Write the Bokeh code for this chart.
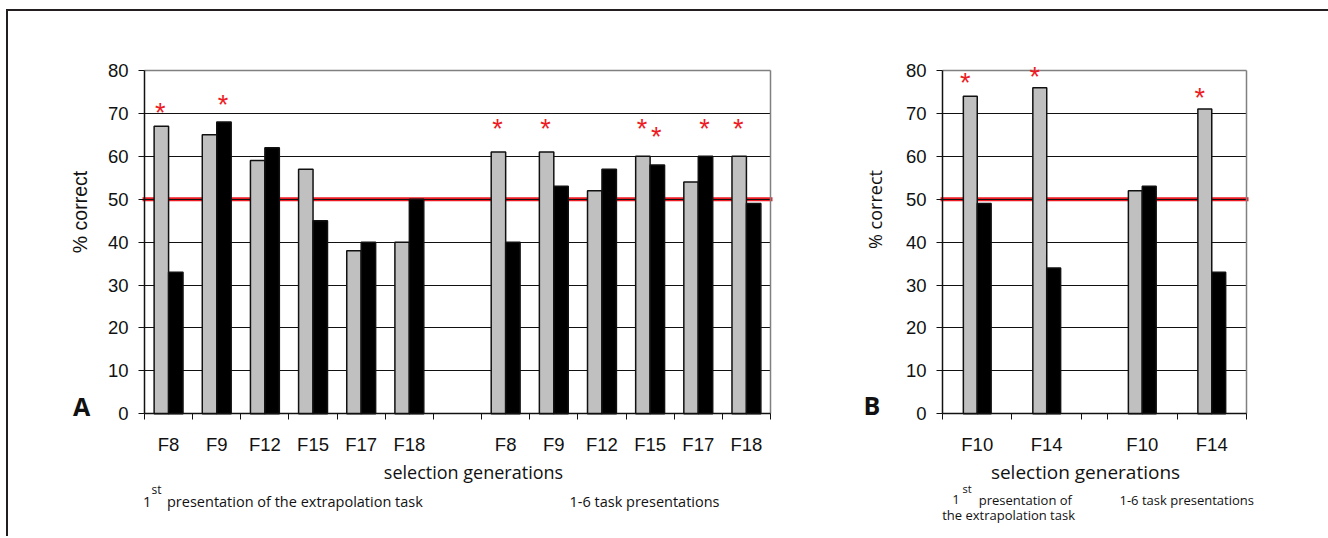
import math
from bokeh.plotting import figure
from bokeh.layouts import row
from bokeh.models import Range1d, FixedTicker, Label, LabelSet, ColumnDataSource, Grid
from bokeh.core.properties import value
from bokeh.embed import file_html
from bokeh.resources import INLINE

# ---------------- data ----------------
y_ticks = [0, 10, 20, 30, 40, 50, 60, 70, 80]
chance_level = 50

# Panel A
a_categories = ["F8", "F9", "F12", "F15", "F17", "F18"]
a_first_grey = [67, 65, 59, 57, 38, 40]
a_first_black = [33, 68, 62, 45, 40, 50]
a_rep_grey = [61, 61, 52, 60, 54, 60]
a_rep_black = [40, 53, 57, 58, 60, 49]
# significance asterisks: block (0 = first presentation, 1 = 1-6 presentations),
# category index, series, height of asterisk (% scale)
a_sig_block = [0, 0, 1, 1, 1, 1, 1, 1]
a_sig_cat = [0, 1, 0, 1, 3, 3, 4, 5]
a_sig_series = ["grey", "black", "grey", "grey", "grey", "black", "black", "grey"]
a_sig_y = [71.4, 73.3, 67.7, 67.7, 67.7, 66.0, 67.7, 67.7]

# Panel B
b_categories = ["F10", "F14"]
b_first_grey = [74, 76]
b_first_black = [49, 34]
b_rep_grey = [52, 71]
b_rep_black = [53, 33]
b_sig_block = [0, 0, 1]
b_sig_cat = [0, 1, 1]
b_sig_series = ["grey", "grey", "grey"]
b_sig_y = [78.5, 80.0, 74.9]

axis_title = "selection generations"
y_title = "% correct"
sub_first_num = "1"
sub_first_sup = "st"
sub_first_rest = "presentation of the extrapolation task"
sub_first_rest_b1 = "presentation of"
sub_first_rest_b2 = "the extrapolation task"
sub_repeat = "1-6 task presentations"

GREY = "#C0C0C0"
INK = "#111111"
RED = "#ED1C24"
FRAME_GREY = "#808080"

# page geometry (pixels in the page)
TOP, BOTTOM = 11, 536          # canvas top / bottom
Y0_PX, Y80_PX = 413.3, 70.0    # where 0 % and 80 % sit
BASE_SHIFT = 5                 # alphabetic baseline correction

HAS_CROSS = "cross_bounds" in Grid.properties()


def lin(d0, p0, d1, p1):
    k = (d1 - d0) / (p1 - p0)
    return lambda px: d0 + (px - p0) * k


def add_rule(p, dim, loc, cross, color, width):
    """A gridline limited to the plotting area."""
    if HAS_CROSS:
        p.add_layout(Grid(dimension=dim, ticker=FixedTicker(ticks=list(loc)),
                          cross_bounds=cross, grid_line_color=color,
                          grid_line_width=width))
    else:
        for v in loc:
            if dim == 1:
                p.segment(x0=[cross[0]], x1=[cross[1]], y0=[v], y1=[v],
                          line_color=color, line_width=width, level="underlay")
            else:
                p.segment(x0=[v], x1=[v], y0=[cross[0]], y1=[cross[1]],
                          line_color=color, line_width=width, level="underlay")


def make_panel(cats, fg, fb, rg, rb, sig_block, sig_cat, sig_series, sig_y,
               gap, bar_w, canvas_l, canvas_r, frame_l, frame_r, sig_dx):
    n = len(cats)
    starts = [0.0, n + gap]
    x_end = starts[1] + n
    fx = lin(0.0, frame_l, x_end, frame_r)
    fy = lin(0.0, Y0_PX, 80.0, Y80_PX)
    p = figure(width=int(canvas_r - canvas_l), height=int(BOTTOM - TOP),
               output_backend="svg", toolbar_location=None,
               x_range=Range1d(fx(canvas_l), fx(canvas_r)),
               y_range=Range1d(fy(BOTTOM), fy(TOP)),
               min_border=0)
    p.background_fill_color = "white"
    p.border_fill_color = "white"
    p.outline_line_color = None

    centers, labels = [], []
    for b in range(2):
        for i, c in enumerate(cats):
            centers.append(starts[b] + i + 0.5)
            labels.append(c)
    bounds = sorted(set([starts[b] + k for b in range(2) for k in range(n + 1)]))

    # grids / frame lines, limited to the plotting area
    p.xgrid.visible = False
    p.ygrid.visible = False
    add_rule(p, 1, y_ticks[1:-1], (0, x_end), INK, 1)
    add_rule(p, 1, [y_ticks[-1]], (0, x_end), FRAME_GREY, 1.5)
    add_rule(p, 0, [x_end], (y_ticks[0], y_ticks[-1]), FRAME_GREY, 1.5)

    # chance line (behind the bars)
    ext = 2.0 / (frame_r - frame_l) * x_end
    p.segment(x0=[-ext], y0=[chance_level], x1=[x_end + ext], y1=[chance_level],
              line_color=RED, line_width=4, level="underlay")

    grey_vals = fg + rg
    black_vals = fb + rb
    src = ColumnDataSource(dict(
        xg=[c - bar_w / 2 for c in centers],
        xb=[c + bar_w / 2 for c in centers],
        g=grey_vals, k=black_vals))
    p.vbar(x="xg", top="g", width=bar_w, source=src, fill_color=GREY,
           line_color=INK, line_width=1.5)
    p.vbar(x="xb", top="k", width=bar_w, source=src, fill_color="black",
           line_color=INK, line_width=1.5)

    # asterisks
    sx = []
    for bl, ci, se in zip(sig_block, sig_cat, sig_series):
        c = starts[bl] + ci + 0.5
        sx.append(c - bar_w / 2 if se == "grey" else c + bar_w / 2)
    ssrc = ColumnDataSource(dict(x=sx, y=sig_y, t=["*"] * len(sx)))
    p.add_layout(LabelSet(x="x", y="y", text="t", source=ssrc,
                          text_color=RED, text_font=value("Liberation Sans"),
                          text_font_size="27px", text_align="center",
                          text_baseline="middle", x_offset=sig_dx, y_offset=-6))

    # y axis (drawn at x = 0)
    ya = p.yaxis[0]
    ya.fixed_location = 0
    ya.bounds = (y_ticks[0], y_ticks[-1])
    ya.ticker = FixedTicker(ticks=y_ticks)
    ya.axis_line_color = INK
    ya.axis_line_width = 1.5
    ya.major_tick_line_color = INK
    ya.major_tick_out = 6
    ya.major_tick_in = 0
    ya.minor_tick_line_color = None
    ya.major_label_standoff = 10
    ya.major_label_text_font = "Liberation Sans"
    ya.major_label_text_font_size = "18.5px"
    ya.major_label_text_color = INK

    # x axis (drawn at y = 0)
    xa = p.xaxis[0]
    xa.fixed_location = 0
    xa.bounds = (0, x_end)
    xa.ticker = FixedTicker(ticks=centers, minor_ticks=bounds)
    xa.major_label_overrides = {float(c): l for c, l in zip(centers, labels)}
    xa.axis_line_color = INK
    xa.axis_line_width = 1.5
    xa.major_tick_line_color = None
    xa.major_tick_out = 0
    xa.major_tick_in = 0
    xa.minor_tick_line_color = INK
    xa.minor_tick_out = 6
    xa.minor_tick_in = 0
    xa.major_label_standoff = 14
    xa.major_label_text_font = "Liberation Sans"
    xa.major_label_text_font_size = "18.5px"
    xa.major_label_text_color = INK
    return p, fx, fy


def add_label(p, x, y, text, font, size, align="left", baseline="alphabetic",
              bold=False, angle=0.0):
    p.add_layout(Label(x=x, y=y, text=text, text_font=font, text_font_size=size,
                       text_align=align, text_baseline=baseline, text_color=INK,
                       text_font_style="bold" if bold else "normal", angle=angle))


# ---------------- panel A ----------------
pA, axA, ayA = make_panel(a_categories, a_first_grey, a_first_black, a_rep_grey,
                          a_rep_black, a_sig_block, a_sig_cat, a_sig_series, a_sig_y,
                          gap=1.0, bar_w=0.3, canvas_l=8, canvas_r=850,
                          frame_l=144, frame_r=770, sig_dx=-1)

add_label(pA, axA(79), ayA(211.5), y_title, "Liberation Sans", "19.5px",
          align="center", baseline="middle", angle=math.pi / 2)
add_label(pA, axA(81), ayA(405), "A", "Open Sans", "25px", align="center",
          baseline="middle", bold=True)
add_label(pA, axA(473), ayA(471), axis_title, "Open Sans", "18px", align="center",
          baseline="middle")
add_label(pA, axA(142.5), ayA(506 - BASE_SHIFT), sub_first_num, "Open Sans", "14.5px")
add_label(pA, axA(151.0), ayA(494 - BASE_SHIFT), sub_first_sup, "Open Sans", "12px")
add_label(pA, axA(166.5), ayA(506 - BASE_SHIFT), sub_first_rest, "Open Sans", "14.5px")
add_label(pA, axA(569), ayA(506 - BASE_SHIFT), sub_repeat, "Open Sans", "14.5px")

# ---------------- panel B ----------------
pB, axB, ayB = make_panel(b_categories, b_first_grey, b_first_black, b_rep_grey,
                          b_rep_black, b_sig_block, b_sig_cat, b_sig_series, b_sig_y,
                          gap=0.375, bar_w=0.2, canvas_l=850, canvas_r=1328,
                          frame_l=942, frame_r=1246, sig_dx=-5)

add_label(pB, axB(874), ayB(209), y_title, "Open Sans", "18px",
          align="center", baseline="middle", angle=math.pi / 2)
add_label(pB, axB(871.5), ayB(404), "B", "Open Sans", "25px", align="center",
          baseline="middle", bold=True)
add_label(pB, axB(1085), ayB(471), axis_title, "Open Sans", "19px", align="center",
          baseline="middle")
add_label(pB, axB(951.7), ayB(504 - BASE_SHIFT), sub_first_num, "Open Sans", "13px")
add_label(pB, axB(962.0), ayB(493 - BASE_SHIFT), sub_first_sup, "Open Sans", "11px")
add_label(pB, axB(978.3), ayB(504 - BASE_SHIFT), sub_first_rest_b1, "Open Sans", "13px")
add_label(pB, axB(941.7), ayB(519.5 - BASE_SHIFT), sub_first_rest_b2, "Open Sans", "13px")
add_label(pB, axB(1119), ayB(504 - BASE_SHIFT), sub_repeat, "Open Sans", "13px")

layout = row(pA, pB, spacing=0, margin=(9, 0, 0, 6),
             styles={"border-top": "2px solid #231F20",
                     "border-left": "2px solid #231F20"})

open("out.html", "w").write(file_html(layout, INLINE))
